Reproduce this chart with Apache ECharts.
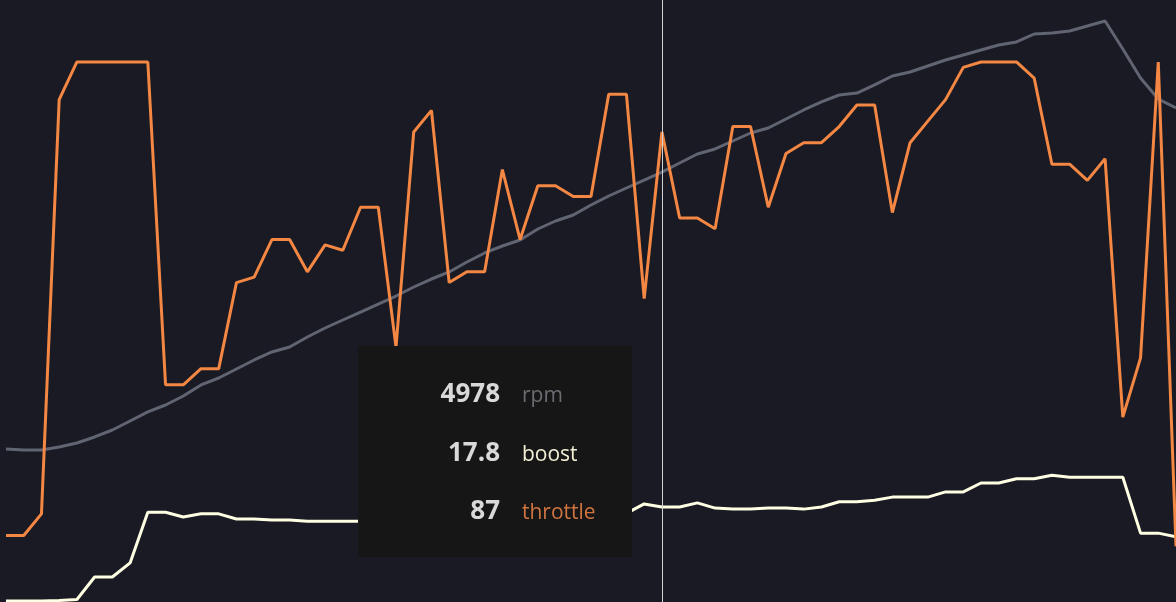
<!DOCTYPE html>
<html lang="en">

<head>
    <meta charset="UTF-8">
    <title>rpm / boost / throttle log</title>
    <script src="https://cdn.jsdelivr.net/npm/echarts@6/dist/echarts.min.js"></script>
    <style>
        html, body {
            margin: 0;
            padding: 0;
            background: #191a23;
        }
        #chart {
            width: 1176px;
            height: 602px;
        }
    </style>
</head>

<body>
    <div id="chart"></div>

    <script>
        // sample index of the log
        let samples = [0, 1, 2, 3, 4, 5, 6, 7, 8, 9, 10, 11, 12, 13, 14, 15, 16, 17, 18, 19, 20, 21, 22,
            23, 24, 25, 26, 27, 28, 29, 30, 31, 32, 33, 34, 35, 36, 37, 38, 39, 40, 41, 42, 43, 44, 45,
            46, 47, 48, 49, 50, 51, 52, 53, 54, 55, 56, 57, 58, 59, 60, 61, 62, 63, 64, 65, 66];

        // engine speed
        let rpmValues = [1757, 1745, 1745, 1780, 1827, 1897, 1978, 2083, 2188, 2269, 2374, 2502, 2583, 2688,
            2793, 2886, 2944, 3060, 3165, 3258, 3351, 3444, 3537, 3642, 3735, 3817, 3933, 4038, 4119, 4189,
            4317, 4410, 4480, 4596, 4701, 4794, 4887, 4978, 5085, 5190, 5248, 5341, 5434, 5492, 5597, 5702,
            5795, 5876, 5899, 5993, 6097, 6144, 6214, 6283, 6342, 6400, 6458, 6493, 6586, 6598, 6621, 6679,
            6737, 6411, 6074, 5830, 5725];

        // boost pressure
        let boostValues = [-0.2, -0.2, -0.2, -0.1, 0.1, 4.4, 4.4, 7.1, 16.8, 16.8, 15.9, 16.5, 16.5, 15.5,
            15.5, 15.3, 15.3, 15.1, 15.1, 15.1, 15.1, 15.0, 15.2, 15.3, 15.3, 15.5, 15.7, 15.8, 16.0, 16.1,
            16.3, 16.3, 16.5, 16.6, 16.6, 16.6, 18.4, 17.8, 17.8, 18.6, 17.6, 17.4, 17.4, 17.6, 17.6, 17.4,
            17.8, 18.8, 18.8, 19.1, 19.7, 19.7, 19.7, 20.7, 20.7, 22.4, 22.4, 23.2, 23.2, 23.9, 23.5, 23.5,
            23.5, 23.5, 12.8, 12.8, 12.1];

        // throttle position (%)
        let throttleValues = [12, 12, 16, 93, 100, 100, 100, 100, 100, 40, 40, 43, 43, 59, 60, 67, 67, 61,
            66, 65, 73, 73, 47, 87, 91, 59, 61, 61, 80, 67, 77, 77, 75, 75, 94, 94, 56, 87, 71, 71, 69, 88,
            88, 73, 83, 85, 85, 88, 92, 92, 72, 85, 89, 93, 99, 100, 100, 100, 97, 81, 81, 78, 82, 34, 45,
            100, 10];

        let seriesNames = ['rpm', 'boost', 'throttle'];
        let lineColors = ['#595b68', '#f9f5d0', '#dd7b3d'];
        let labelColors = ['#6c6c72', '#f2efd4', '#cf7440'];
        let hoverIndex = 37;

        let chart = echarts.init(document.getElementById('chart'));
        let option = {
            backgroundColor: '#191a23',
            animation: false,
            grid: {
                left: 6,
                right: 0,
                top: 0,
                bottom: 0
            },
            tooltip: {
                trigger: 'axis',
                triggerOn: 'none',
                alwaysShowContent: true,
                transitionDuration: 0,
                position: [358, 346],
                backgroundColor: '#161616',
                borderWidth: 0,
                padding: [17, 0, 0, 0],
                extraCssText: 'box-shadow:none;border-radius:0;width:274px;height:194px;',
                axisPointer: {
                    type: 'line',
                    animation: false,
                    lineStyle: {
                        color: '#d2d2d2',
                        width: 1,
                        type: 'solid'
                    }
                },
                formatter: function (params) {
                    let html = '';
                    params.forEach(p => {
                        html += '<div style="height:58.5px;line-height:58.5px;white-space:nowrap;font-family:\'Open Sans\',sans-serif">';
                        html += `<span style="display:inline-block;width:142px;text-align:right;font-weight:700;font-size:26px;color:#d9d9d9">${p.value}</span>`;
                        html += `<span style="display:inline-block;margin-left:22px;font-size:21px;color:${labelColors[p.seriesIndex]}">${p.seriesName}</span>`;
                        html += '</div>';
                    });
                    return html;
                }
            },
            xAxis: {
                type: 'category',
                data: samples,
                boundaryGap: false,
                show: false
            },
            yAxis: [
                { type: 'value', min: -23.3, max: 6981.6, show: false },
                { type: 'value', min: -0.383, max: 114.88, show: false },
                { type: 'value', min: -0.372, max: 111.52, show: false }
            ],
            series: [
                {
                    name: seriesNames[0],
                    type: 'line',
                    yAxisIndex: 0,
                    data: rpmValues,
                    symbol: 'none',
                    clip: false,
                    lineStyle: { color: lineColors[0], width: 3 },
                    itemStyle: { color: lineColors[0] }
                },
                {
                    name: seriesNames[1],
                    type: 'line',
                    yAxisIndex: 1,
                    data: boostValues,
                    symbol: 'none',
                    clip: false,
                    lineStyle: { color: lineColors[1], width: 3 },
                    itemStyle: { color: lineColors[1] }
                },
                {
                    name: seriesNames[2],
                    type: 'line',
                    yAxisIndex: 2,
                    data: throttleValues,
                    symbol: 'none',
                    clip: false,
                    lineStyle: { color: lineColors[2], width: 3 },
                    itemStyle: { color: lineColors[2] }
                }
            ]
        };
        chart.setOption(option);
        chart.dispatchAction({ type: 'showTip', seriesIndex: 0, dataIndex: hoverIndex });
    </script>
</body>

</html>
